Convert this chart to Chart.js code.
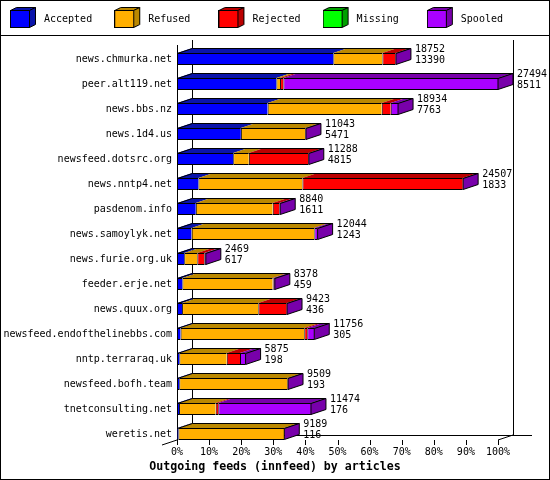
<!DOCTYPE html>
<html>
<head>
<meta charset="utf-8">
<script src="https://cdn.jsdelivr.net/npm/chart.js@4.4.1/dist/chart.umd.min.js"></script>
<style>
  html, body { margin: 0; padding: 0; background: #fff; }
  canvas { display: block; }
</style>
</head>
<body>
<canvas id="feedsChart" width="550" height="480"></canvas>
<script>
const hosts = ['news.chmurka.net', 'peer.alt119.net', 'news.bbs.nz', 'news.1d4.us',
  'newsfeed.dotsrc.org', 'news.nntp4.net', 'pasdenom.info', 'news.samoylyk.net',
  'news.furie.org.uk', 'feeder.erje.net', 'news.quux.org', 'newsfeed.endofthelinebbs.com',
  'nntp.terraraq.uk', 'newsfeed.bofh.team', 'tnetconsulting.net', 'weretis.net'];

// articles offered per feed (first number next to each bar)
const totals = [18752, 27494, 18934, 11043, 11288, 24507, 8840, 12044, 2469, 8378, 9423, 11756, 5875, 9509, 11474, 9189];

// split of the offered articles, estimated from the bar segments
const accepted = [13390, 8511, 7763, 5471, 4815, 1833, 1611, 1243, 617, 459, 436, 305, 198, 193, 176, 116];
const refused  = [4200, 315, 9773, 5520, 1336, 8908, 6586, 10518, 1122, 7734, 6527, 10595, 4060, 9286, 3135, 9053];
const rejected = [1132, 285, 771, 0, 5110, 13740, 565, 0, 600, 60, 2440, 257, 1139, 0, 223, 0];
const missing  = [0, 0, 0, 0, 0, 0, 0, 0, 0, 0, 0, 0, 0, 0, 0, 0];
const spooled  = [30, 18383, 627, 52, 27, 26, 78, 283, 130, 125, 20, 599, 478, 30, 7940, 20];

const seriesNames = ['Accepted', 'Refused', 'Rejected', 'Missing', 'Spooled'];
const xTicks = [0, 10, 20, 30, 40, 50, 60, 70, 80, 90, 100];

const seriesValues = [accepted, refused, rejected, missing, spooled];
const fillColors = ['#0000ff', '#ffaf00', '#ff0000', '#00ff00', '#aa00ff'];
const darkColors = ['#0a14aa', '#bb8800', '#bb0000', '#00a000', '#7800aa'];

const MONO = '"DejaVu Sans Mono", monospace';
const DX = 15, DY = 5;   // depth of the 3d effect
const maxTotal = Math.max(...totals);

function makeCube(front, dark) {
  const c = document.createElement('canvas');
  c.width = 32; c.height = 25;
  const g = c.getContext('2d');
  g.lineWidth = 1;
  g.strokeStyle = '#000';
  g.fillStyle = front;
  g.fillRect(0, 3, 20, 18);
  g.strokeRect(0.5, 3.5, 19, 17);
  g.fillStyle = dark;
  g.beginPath();
  g.moveTo(0.5, 3.5); g.lineTo(6.5, 0.5); g.lineTo(25.5, 0.5); g.lineTo(19.5, 3.5);
  g.closePath(); g.fill(); g.stroke();
  g.beginPath();
  g.moveTo(19.5, 3.5); g.lineTo(25.5, 0.5); g.lineTo(25.5, 17.5); g.lineTo(19.5, 20.5);
  g.closePath(); g.fill(); g.stroke();
  return c;
}
const legendCubes = fillColors.map((c, k) => makeCube(c, darkColors[k]));

// walls, floor, ticks and the 3d faces of the bars
const frame3d = {
  id: 'frame3d',
  beforeDraw(chart) {
    const ctx = chart.ctx;
    ctx.save();
    ctx.fillStyle = '#fff';
    ctx.fillRect(0, 0, chart.width, chart.height);
    ctx.restore();
  },
  beforeDatasetsDraw(chart) {
    const {ctx, chartArea: a, scales: {x}} = chart;
    const floor = a.bottom - 6.5;
    const top = a.top - 6.5;
    ctx.save();
    ctx.strokeStyle = '#000';
    ctx.lineWidth = 1;
    ctx.strokeRect(0.5, 0.5, chart.width - 1, chart.height - 1);
    ctx.beginPath();
    ctx.moveTo(0, 35.5); ctx.lineTo(chart.width, 35.5);
    ctx.moveTo(a.left + 0.5, top + DY); ctx.lineTo(a.left + 0.5, floor);
    ctx.moveTo(a.left + DX + 0.5, top); ctx.lineTo(a.left + DX + 0.5, floor - DY + 0.5);
    ctx.moveTo(a.right + DX + 0.5, top); ctx.lineTo(a.right + DX + 0.5, floor - DY + 0.5);
    ctx.moveTo(a.left + DX, floor - DY + 0.5); ctx.lineTo(a.right + DX + 19, floor - DY + 0.5);
    ctx.moveTo(a.right, floor); ctx.lineTo(a.right + DX, floor - DY);
    ctx.moveTo(a.left - DX, floor + DY); ctx.lineTo(a.left, floor);
    x.ticks.forEach(t => {
      const px = Math.round(x.getPixelForValue(t.value)) + 0.5;
      ctx.moveTo(px, floor); ctx.lineTo(px, floor + 5);
    });
    ctx.stroke();
    ctx.restore();
  },
  afterDatasetsDraw(chart) {
    const ctx = chart.ctx;
    const metas = seriesNames.map((n, k) => chart.getDatasetMeta(k));
    ctx.save();
    ctx.lineWidth = 1;
    ctx.strokeStyle = '#000';
    hosts.forEach((h, i) => {
      let start = null, end = null, top = 0, bottom = 0, lastK = 0;
      metas.forEach((m, k) => {
        const {x, base, y, height} = m.data[i].getProps(['x', 'base', 'y', 'height'], true);
        top = y - height / 2;
        bottom = y + height / 2;
        if (start === null) start = base;
        if (x - base > 0) {
          ctx.fillStyle = darkColors[k];
          ctx.beginPath();
          ctx.moveTo(base, top); ctx.lineTo(base + DX, top - DY);
          ctx.lineTo(x + DX, top - DY); ctx.lineTo(x, top);
          ctx.closePath(); ctx.fill();
          end = x; lastK = k;
        }
      });
      ctx.beginPath();
      ctx.moveTo(start + 0.5, top + 0.5); ctx.lineTo(start + DX + 0.5, top - DY + 0.5);
      ctx.lineTo(end + DX, top - DY + 0.5); ctx.lineTo(end, top + 0.5);
      ctx.stroke();
      ctx.fillStyle = darkColors[lastK];
      ctx.beginPath();
      ctx.moveTo(end, top + 0.5); ctx.lineTo(end + DX, top - DY + 0.5);
      ctx.lineTo(end + DX, bottom - DY - 0.5); ctx.lineTo(end, bottom - 0.5);
      ctx.closePath(); ctx.fill(); ctx.stroke();

      ctx.fillStyle = '#000';
      ctx.font = '10px ' + MONO;
      ctx.textAlign = 'left';
      ctx.textBaseline = 'middle';
      ctx.fillText(String(totals[i]), end + DX + 4, top - 3.5);
      ctx.fillText(String(accepted[i]), end + DX + 4, top + 7.5);
    });
    ctx.restore();
  }
};

const tickFont = { family: MONO, size: 10, lineHeight: '12px' };

new Chart(document.getElementById('feedsChart'), {
  type: 'bar',
  data: {
    labels: hosts,
    datasets: seriesNames.map((name, k) => ({
      label: name,
      data: seriesValues[k].map(v => v / maxTotal * 100),
      backgroundColor: fillColors[k],
      borderColor: '#000',
      borderWidth: { top: 1, bottom: 1, left: 1, right: 0 },
      borderSkipped: false,
      inflateAmount: 0,
      barThickness: 12,
      yAxisID: 'y'
    }))
  },
  options: {
    indexAxis: 'y',
    responsive: false,
    animation: false,
    devicePixelRatio: 1,
    layout: { padding: { top: 1.5, left: 0, right: 0, bottom: 0 } },
    scales: {
      x: {
        stacked: true,
        min: 0,
        max: 100,
        grid: { display: false, drawTicks: false },
        border: { display: false },
        afterBuildTicks: axis => { axis.ticks = xTicks.map(v => ({ value: v })); },
        ticks: {
          padding: 0, color: '#000', font: tickFont, autoSkip: false, maxRotation: 0,
          callback: v => v + '%'
        }
      },
      y: {
        stacked: true,
        grid: { display: false, drawTicks: false },
        border: { display: false },
        ticks: { padding: 5, color: '#000', font: tickFont, autoSkip: false },
        afterFit: s => { s.width = 177; }
      },
      // keeps room on the right for the value labels
      yPad: {
        type: 'category',
        position: 'right',
        grid: { display: false, drawTicks: false },
        border: { display: false },
        ticks: { display: false },
        afterFit: s => { s.width = 52; }
      }
    },
    plugins: {
      legend: {
        position: 'top',
        align: 'start',
        labels: {
          usePointStyle: true,
          pointStyleWidth: 26,
          padding: 13,
          color: '#000',
          font: { family: MONO, size: 10 },
          generateLabels: chart => chart.data.datasets.map((ds, k) => ({
            text: ds.label.padEnd(10, ' '),
            pointStyle: legendCubes[k],
            fillStyle: fillColors[k],
            strokeStyle: '#000',
            lineWidth: 0,
            hidden: false,
            datasetIndex: k
          }))
        }
      },
      subtitle: {
        display: true, text: '', position: 'top', weight: 500,
        padding: 0, font: { size: 10, lineHeight: '12px' }
      },
      title: {
        display: true,
        position: 'bottom',
        text: 'Outgoing feeds (innfeed) by articles',
        color: '#000',
        font: { family: MONO, size: 11.6, weight: 'bold', lineHeight: '14px' },
        padding: { top: 1.5, bottom: 6 }
      },
      tooltip: { enabled: false }
    }
  },
  plugins: [frame3d]
});
</script>
</body>
</html>
